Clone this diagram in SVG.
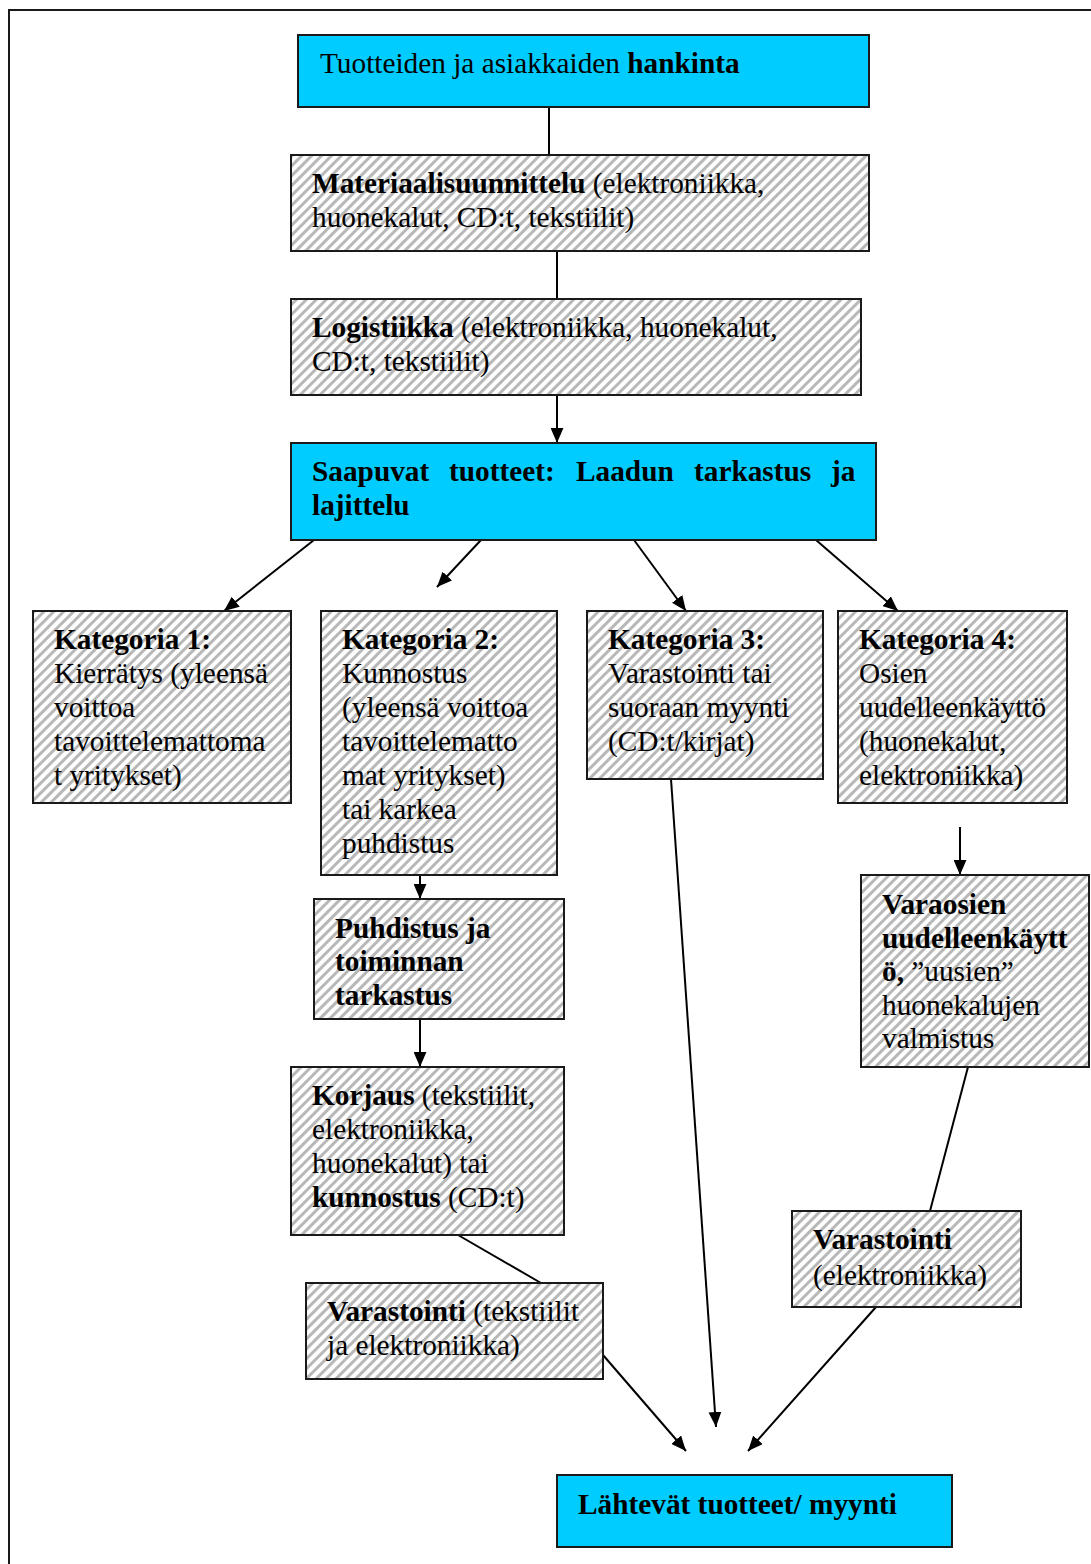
<svg xmlns="http://www.w3.org/2000/svg" width="1091" height="1564" viewBox="0 0 1091 1564">
<defs>
<pattern id="hatch" width="7" height="7" patternUnits="userSpaceOnUse" patternTransform="rotate(45)">
<rect width="7" height="7" fill="#ffffff"/>
<rect width="3" height="7" fill="#b8b8b8"/>
</pattern>
<marker id="arr" viewBox="0 0 14 12" refX="14" refY="6" markerWidth="15" markerHeight="13" markerUnits="userSpaceOnUse" orient="auto">
<path d="M0,0 L14,6 L0,12 Z" fill="#000"/>
</marker>
</defs>
<style>
text{font-family:"Liberation Serif","Times New Roman",serif;font-size:29.3px;fill:#000}
.b{font-weight:bold}
.cy{fill:#00ccff;stroke:#1a1a1a;stroke-width:2}
.ht{fill:url(#hatch);stroke:#1a1a1a;stroke-width:2}
.c{stroke:#000;stroke-width:2;fill:none}
.ca{stroke:#000;stroke-width:2;fill:none;marker-end:url(#arr)}
</style>
<rect x="9" y="10" width="1100" height="1570" fill="none" stroke="#1a1a1a" stroke-width="2"/>
<g id="connectors">
<line class="c" x1="549" y1="107" x2="549" y2="155"/>
<line class="c" x1="557" y1="251" x2="557" y2="299"/>
<line class="ca" x1="557" y1="395" x2="557" y2="443"/>
<line class="ca" x1="314" y1="540" x2="224" y2="611"/>
<line class="ca" x1="481" y1="540" x2="437" y2="587"/>
<line class="ca" x1="634" y1="540" x2="686" y2="611"/>
<line class="ca" x1="816" y1="540" x2="898" y2="611"/>
<line class="ca" x1="420" y1="875" x2="420" y2="899"/>
<line class="ca" x1="420" y1="1019" x2="420" y2="1067"/>
<line class="c" x1="458" y1="1235" x2="541" y2="1283"/>
<line class="ca" x1="671" y1="779" x2="716" y2="1427"/>
<line class="ca" x1="603" y1="1355" x2="686" y2="1451"/>
<line class="ca" x1="876" y1="1307" x2="748" y2="1451"/>
<line class="ca" x1="960" y1="827" x2="960" y2="875"/>
<line class="c" x1="968" y1="1067" x2="930" y2="1211"/>
</g>
<g id="n1">
<rect class="cy" x="298" y="35" width="571" height="72"/>
<text x="320" y="73">Tuotteiden ja asiakkaiden <tspan class="b">hankinta</tspan></text>
</g>
<g id="n2">
<rect class="ht" x="291" y="155" width="578" height="96"/>
<text x="312" y="193"><tspan class="b">Materiaalisuunnittelu</tspan> (elektroniikka,</text>
<text x="312" y="227">huonekalut, CD:t, tekstiilit)</text>
</g>
<g id="n3">
<rect class="ht" x="291" y="299" width="570" height="96"/>
<text x="312" y="337"><tspan class="b">Logistiikka</tspan> (elektroniikka, huonekalut,</text>
<text x="312" y="371">CD:t, tekstiilit)</text>
</g>
<g id="n4">
<rect class="cy" x="291" y="443" width="585" height="97"/>
<text class="b" y="481"><tspan x="312">Saapuvat</tspan><tspan x="449">tuotteet:</tspan><tspan x="576">Laadun</tspan><tspan x="694">tarkastus</tspan><tspan x="831">ja</tspan></text>
<text class="b" x="312" y="515">lajittelu</text>
</g>
<g id="n5">
<rect class="ht" x="33" y="611" width="258" height="192"/>
<text x="54" y="649" class="b">Kategoria 1:</text>
<text x="54" y="683">Kierrätys (yleensä</text>
<text x="54" y="717">voittoa</text>
<text x="54" y="751">tavoittelemattoma</text>
<text x="54" y="785">t yritykset)</text>
</g>
<g id="n6">
<rect class="ht" x="321" y="611" width="236" height="264"/>
<text x="342" y="649" class="b">Kategoria 2:</text>
<text x="342" y="683">Kunnostus</text>
<text x="342" y="717">(yleensä voittoa</text>
<text x="342" y="751">tavoittelematto</text>
<text x="342" y="785">mat yritykset)</text>
<text x="342" y="819">tai karkea</text>
<text x="342" y="853">puhdistus</text>
</g>
<g id="n7">
<rect class="ht" x="587" y="611" width="236" height="168"/>
<text x="608" y="649" class="b">Kategoria 3:</text>
<text x="608" y="683">Varastointi tai</text>
<text x="608" y="717">suoraan myynti</text>
<text x="608" y="751">(CD:t/kirjat)</text>
</g>
<g id="n8">
<rect class="ht" x="838" y="611" width="229" height="192"/>
<text x="859" y="649" class="b">Kategoria 4:</text>
<text x="859" y="683">Osien</text>
<text x="859" y="717">uudelleenkäyttö</text>
<text x="859" y="751">(huonekalut,</text>
<text x="859" y="785">elektroniikka)</text>
</g>
<g id="n9">
<rect class="ht" x="314" y="899" width="250" height="120"/>
<text x="335" y="938" class="b">Puhdistus ja</text>
<text x="335" y="971" class="b">toiminnan</text>
<text x="335" y="1005" class="b">tarkastus</text>
</g>
<g id="n10">
<rect class="ht" x="291" y="1067" width="273" height="168"/>
<text x="312" y="1105"><tspan class="b">Korjaus</tspan> (tekstiilit,</text>
<text x="312" y="1139">elektroniikka,</text>
<text x="312" y="1173">huonekalut) tai</text>
<text x="312" y="1207"><tspan class="b">kunnostus</tspan> (CD:t)</text>
</g>
<g id="n11">
<rect class="ht" x="861" y="875" width="228" height="192"/>
<text x="882" y="914" class="b">Varaosien</text>
<text x="882" y="948" class="b">uudelleenkäytt</text>
<text x="882" y="981"><tspan class="b">ö,</tspan> ”uusien”</text>
<text x="882" y="1015">huonekalujen</text>
<text x="882" y="1048">valmistus</text>
</g>
<g id="n12">
<rect class="ht" x="792" y="1211" width="229" height="96"/>
<text x="813" y="1249" class="b">Varastointi</text>
<text x="813" y="1285">(elektroniikka)</text>
</g>
<g id="n13">
<rect class="ht" x="306" y="1283" width="297" height="96"/>
<text x="327" y="1321"><tspan class="b">Varastointi</tspan> (tekstiilit</text>
<text x="327" y="1355">ja elektroniikka)</text>
</g>
<g id="n14">
<rect class="cy" x="557" y="1475" width="395" height="72"/>
<text x="578" y="1514" class="b">Lähtevät tuotteet/ myynti</text>
</g>
</svg>
